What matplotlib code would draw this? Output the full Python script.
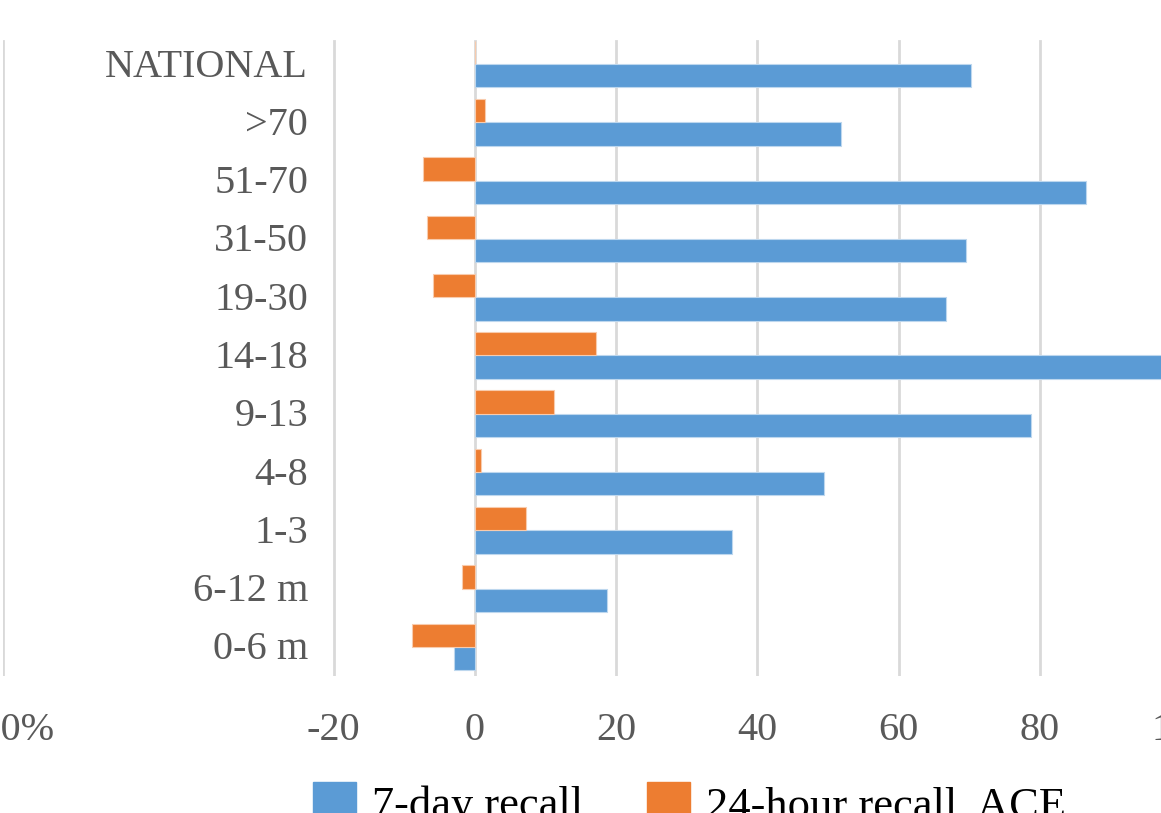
import matplotlib
matplotlib.use("Agg")
from matplotlib import pyplot as plt
from matplotlib.patches import Patch
from matplotlib.transforms import offset_copy
import numpy as np

# categories from bottom to top
groups = ["0-6 m", "6-12 m", "1-3", "4-8", "9-13", "14-18",
          "19-30", "31-50", "51-70", ">70", "NATIONAL"]
recall_7day = [-3.0, 18.7, 36.4, 49.5, 78.7, 98.0, 66.7, 69.5, 86.6, 51.9, 70.2]
recall_24h = [-8.9, -1.8, 7.2, 0.9, 11.2, 17.1, -5.9, -6.7, -7.4, 1.4, 0.0]
tick_values = [-66.8, -20, 0, 20, 40, 60, 80, 100]
tick_labels = ["", "-20", "0", "20", "40", "60", "80", "100"]
edge_label = "-40%"

blue = "#5B9BD5"
orange = "#ED7D31"
grey = "#595959"

plt.rcParams["font.family"] = ["Liberation Serif", "DejaVu Serif"]

fig = plt.figure(figsize=(11.61, 8.13), dpi=100)
W, H = 1161, 813
left_px, right_px = 3, 1181
top_px, bottom_px = 35, 676
ax = fig.add_axes([left_px / W, 1 - bottom_px / H,
                   (right_px - left_px) / W, (bottom_px - top_px) / H])

y = np.arange(len(groups))
h = 0.4
ax.barh(y - h / 2, recall_7day, height=h, color=blue, edgecolor="#BDD7EE", linewidth=0.8, zorder=3)
ax.barh(y + h / 2, recall_24h, height=h, color=orange, edgecolor="#F8CBAD", linewidth=0.8, zorder=3)

ax.set_xlim(-66.8, 100)
ax.set_ylim(-0.5, len(groups) - 0.5)
ax.set_xticks(tick_values)
ax.set_xticklabels(tick_labels, fontsize=29, color=grey)
ax.tick_params(axis="x", length=0, pad=26)
ax.set_yticks([])
for x in tick_values:
    ax.axvline(x, ymin=0.0, ymax=0.99, color="#D9D9D9", linewidth=2, zorder=1)
for s in ax.spines.values():
    s.set_visible(False)

# leftmost label, partly outside the figure
ax.annotate(edge_label, xy=(tick_values[0], 0), xycoords=ax.get_xaxis_transform(),
            xytext=(5.5, -26), textcoords="offset points", ha="center", va="top",
            fontsize=29, color=grey, annotation_clip=False)

label_trans = offset_copy(ax.transData, fig=fig, x=0, y=-3, units="dots")
for yi, name in zip(y, groups):
    ax.text(-23.6, yi, name, ha="right", va="center", fontsize=29, color=grey,
            transform=label_trans)

handles = [Patch(color=blue, label="7-day recall"),
           Patch(color=orange, label="24-hour recall, ACE")]
fig.legend(handles=handles, loc="upper left", bbox_to_anchor=(273 / W, 1 - 742 / H),
           ncol=2, frameon=False, fontsize=32, handlelength=0.97, handleheight=1.0,
           columnspacing=1.45, handletextpad=0.35)

fig.savefig("out.png", dpi=100)
